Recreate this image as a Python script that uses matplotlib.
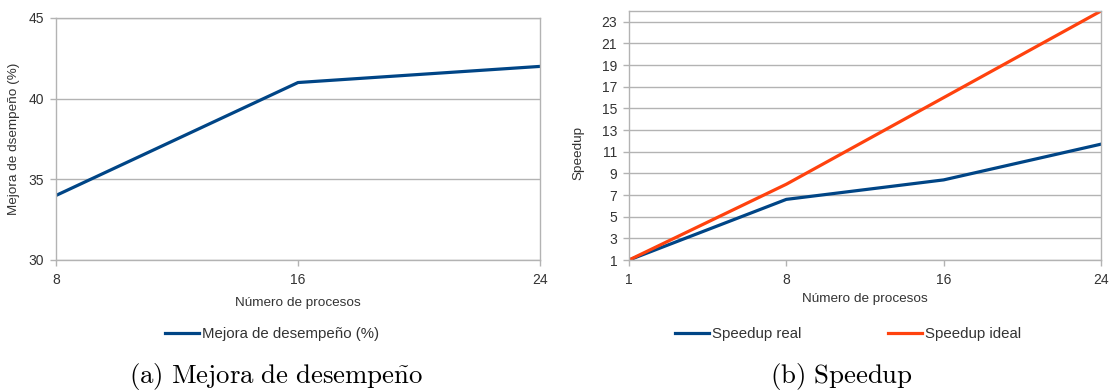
import matplotlib
matplotlib.use("Agg")
import matplotlib.pyplot as plt
from matplotlib.lines import Line2D

plt.rcParams['font.family'] = ['Liberation Sans', 'DejaVu Sans']
plt.rcParams['mathtext.fontset'] = 'cm'

# Data
procs_a = ["8", "16", "24"]
mejora = [34, 41, 42]

procs_b = ["1", "8", "16", "24"]
speedup_real = [1, 6.6, 8.4, 11.7]
speedup_ideal = [1, 8, 16, 24]

BLUE = "#004586"
ORANGE = "#ff420e"
GRID = "#b3b3b3"
TXT = "#333333"
W, H = 1112, 392

fig = plt.figure(figsize=(W/100, H/100), dpi=100)

def style(ax):
    for s in ax.spines.values():
        s.set_color(GRID)
        s.set_linewidth(1.0)
    ax.grid(axis='y', color=GRID, linewidth=1.0)
    ax.set_axisbelow(True)
    ax.tick_params(axis='both', colors=GRID, labelcolor=TXT, labelsize=10,
                   length=4.5, width=1.0, direction='out')
    ax.tick_params(axis='x', pad=5)
    ax.tick_params(axis='y', pad=4)

# Chart a
a_l, a_r, a_t, a_b = 56, 540, 18, 260
ax1 = fig.add_axes([a_l/W, 1-a_b/H, (a_r-a_l)/W, (a_b-a_t)/H])
xa = list(range(len(procs_a)))
ax1.plot(xa, mejora, color=BLUE, linewidth=2.3)
ax1.set_xlim(0, len(procs_a)-1)
ax1.set_xticks(xa)
ax1.set_xticklabels(procs_a)
ax1.set_ylim(30, 45)
ax1.set_yticks([30, 35, 40, 45])
style(ax1)
ax1.set_xlabel("Número de procesos", fontsize=9.7, color=TXT, va='center')
ax1.xaxis.set_label_coords(0.5, -(303-a_b)/(a_b-a_t))
ax1.set_ylabel("Mejora de dsempeño (%)", fontsize=9.7, color=TXT, va='center')
ax1.yaxis.set_label_coords((14-a_l)/(a_r-a_l), 0.5)

# Chart b
b_l, b_r, b_t, b_b = 629, 1101, 11, 260
ax2 = fig.add_axes([b_l/W, 1-b_b/H, (b_r-b_l)/W, (b_b-b_t)/H])
xb = list(range(len(procs_b)))
ax2.plot(xb, speedup_real, color=BLUE, linewidth=2.3)
ax2.plot(xb, speedup_ideal, color=ORANGE, linewidth=2.3)
ax2.set_xlim(0, len(procs_b)-1)
ax2.set_xticks(xb)
ax2.set_xticklabels(procs_b)
ax2.set_ylim(1, 24)
ax2.set_yticks(list(range(1, 24, 2)))
style(ax2)
ax2.set_xlabel("Número de procesos", fontsize=9.7, color=TXT, va='center')
ax2.xaxis.set_label_coords(0.5, -(299-b_b)/(b_b-b_t))
ax2.set_ylabel("Speedup", fontsize=9.7, color=TXT, va='center')
ax2.yaxis.set_label_coords((578-b_l)/(b_r-b_l), (b_b-153)/(b_b-b_t))

# Legends
h_a = [Line2D([], [], color=BLUE, linewidth=2.3)]
fig.legend(h_a, ["Mejora de desempeño (%)"], loc='center', bbox_to_anchor=(272/W, 1-334/H),
           frameon=False, fontsize=10.8, handlelength=2.25, handletextpad=0.2, labelcolor=TXT)
h_b = [Line2D([], [], color=BLUE, linewidth=2.3), Line2D([], [], color=ORANGE, linewidth=2.3)]
fig.legend(h_b, ["Speedup real", "Speedup ideal"], loc='center', bbox_to_anchor=(848/W, 1-334/H),
           frameon=False, fontsize=10.8, ncol=2, handlelength=2.25, handletextpad=0.2,
           columnspacing=5.8, labelcolor=TXT)

# Captions
fig.text(276/W, 1-376/H, r"$\mathrm{(a)\ Mejora\ de\ desempe\tilde{n}o}$",
         ha='center', va='center', fontsize=19.3, color='black')
fig.text(841/W, 1-376/H, r"$\mathrm{(b)\ Speedup}$",
         ha='center', va='center', fontsize=19.3, color='black')

fig.savefig("out.png", dpi=100)
